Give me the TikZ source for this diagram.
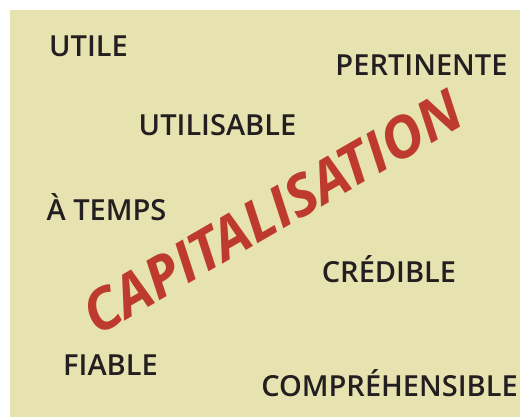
\documentclass[tikz,border=0pt]{standalone}
\usepackage{fontspec}
\setmainfont{Open Sans}
\newfontfamily\motfont{Open Sans Semibold}
\definecolor{fond}{RGB}{230,227,176}
\definecolor{rouge}{RGB}{190,58,46}
\definecolor{encre}{RGB}{35,31,32}
\begin{document}
\begin{tikzpicture}[x=1pt,y=-1pt,
    mot/.style={anchor=base, inner sep=0pt, text=encre, font=\fontsize{29}{29}\motfont},
    titre/.style={inner sep=0pt, text=rouge, rotate=30, font=\fontsize{57}{57}\selectfont\bfseries\itshape}]
  \useasboundingbox (0,0) rectangle (520,417);
  \fill[fond] (10,10) rectangle (520,417);
  \node[mot] (utile) at (88.5,57) {UTILE};
  \node[mot] (pertinente) at (421.5,76) {PERTINENTE};
  \node[mot] (utilisable) at (217.5,136) {UTILISABLE};
  \node[mot] (atemps) at (106.5,221) {À TEMPS};
  \node[mot] (credible) at (389,282) {CRÉDIBLE};
  \node[mot] (fiable) at (110.5,375) {FIABLE};
  \node[mot] (comprehensible) at (389.5,396) {COMPRÉHENSIBLE};
  \node[titre] (capitalisation) at (272,212) {CAPITALISATION};
\end{tikzpicture}
\end{document}
